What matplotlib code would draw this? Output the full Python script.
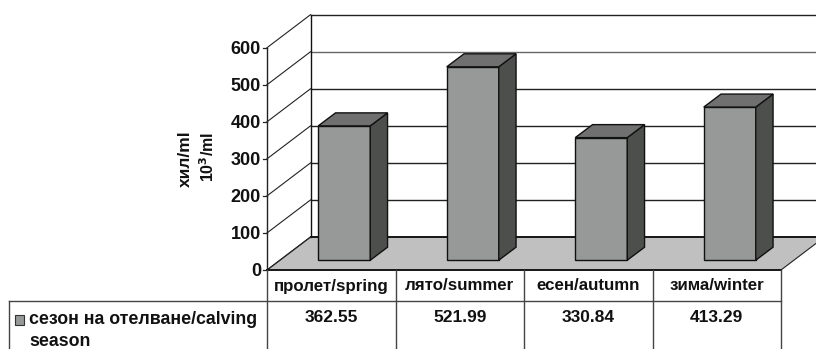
import matplotlib
matplotlib.use('Agg')
import matplotlib.pyplot as plt
from matplotlib.patches import Polygon, Rectangle

plt.rcParams['font.family'] = ['Liberation Sans', 'DejaVu Sans']
plt.rcParams['font.weight'] = 'bold'

# setup data
seasons = ['пролет/spring', 'лято/summer', 'есен/autumn', 'зима/winter']
values = [362.55, 521.99, 330.84, 413.29]
value_labels = ['362.55', '521.99', '330.84', '413.29']
y_ticks = [0, 100, 200, 300, 400, 500, 600]
series_lines = ['сезон на отелване/calving', 'season']

# pixel size of one category and of one unit on the value axis
W, H = 816, 349
X0, Y0 = 267, 270
CAT_PX = 128.5
VAL_PX = 0.3705

def px_x(p):
    return p / CAT_PX

def px_y(p):
    return p / VAL_PX

DX, DY = px_x(43.5), px_y(33)      # depth of the 3d box
BAR_W = px_x(52)
BAR_DX, BAR_DY = px_x(17.3), px_y(13)

fig = plt.figure(figsize=(W / 100, H / 100), dpi=100)

# chart axes: x in categories, y in data units
ax = fig.add_axes([0, 0, 1, 1])
ax.set_xlim(-X0 / CAT_PX, (W - X0) / CAT_PX)
ax.set_ylim(-(H - Y0) / VAL_PX, Y0 / VAL_PX)
ax.axis('off')

n = len(values)
top = max(y_ticks)

# floor
ax.add_patch(Polygon([(0, 0), (DX, DY), (n + DX, DY), (n, 0)], closed=True,
                     facecolor='#c0c0c0', edgecolor='#222222', linewidth=0.8, zorder=1))
ax.plot([0, n], [0, 0], color='#111111', lw=1.3, zorder=2)
ax.plot([DX, n + DX], [DY, DY], color='#111111', lw=1.3, zorder=2)

# walls and gridlines
for t in y_ticks:
    ax.plot([0, DX], [t, t + DY], color='#222222', lw=0.8, zorder=1.5)
    if t > 0:
        grid_col = '#666666' if t == 500 else '#222222'
        ax.plot([DX, n + DX], [t + DY, t + DY], color=grid_col, lw=1.0, zorder=1.5)
    ax.plot([-px_x(4), 0], [t, t], color='#222222', lw=0.9, zorder=1.5)
    ax.text(-px_x(6), t - px_y(1.5), str(t), ha='right', va='center', fontsize=13, color='#111111')
ax.plot([0, 0], [0, top], color='#222222', lw=1.0, zorder=1.5)
ax.plot([DX, DX], [DY, top + DY], color='#111111', lw=1.0, zorder=1.5)

# bars
for i, v in enumerate(values):
    x = i + 0.5 - BAR_W / 2 + px_x(13)
    b = px_y(9.8)
    ax.add_patch(Rectangle((x, b), BAR_W, v, facecolor='#979998',
                           edgecolor='#111111', linewidth=1.0, zorder=3))
    ax.add_patch(Polygon([(x + BAR_W, b), (x + BAR_W + BAR_DX, b + BAR_DY),
                          (x + BAR_W + BAR_DX, b + v + BAR_DY), (x + BAR_W, b + v)],
                         closed=True, facecolor='#4d4f4d', edgecolor='#111111',
                         linewidth=1.0, zorder=3))
    ax.add_patch(Polygon([(x, b + v), (x + BAR_DX, b + v + BAR_DY),
                          (x + BAR_W + BAR_DX, b + v + BAR_DY), (x + BAR_W, b + v)],
                         closed=True, facecolor='#707070', edgecolor='#111111',
                         linewidth=1.0, zorder=3))

# data table below the chart, in pixel coordinates
tb = fig.add_axes([0, 0, 1, 1])
tb.set_xlim(0, W)
tb.set_ylim(H, 0)
tb.axis('off')
tb.patch.set_alpha(0)

line = '#444444'
col_x = [X0 + i * CAT_PX for i in range(n + 1)]
tb.plot([9, col_x[-1]], [300.7, 300.7], color=line, lw=1.0)
tb.plot([9, 9], [300.7, H], color=line, lw=1.0)
for cx in col_x:
    tb.plot([cx, cx], [Y0, H], color=line, lw=1.0)

for i in range(n):
    xc = (col_x[i] + col_x[i + 1]) / 2
    tb.text(xc, 286, seasons[i], ha='center', va='center', fontsize=12.2, color='#111111')
    tb.text(xc, 318, value_labels[i], ha='center', va='center', fontsize=12.5, color='#111111')

tb.add_patch(Rectangle((14.5, 315), 9.5, 9.5, facecolor='#979998', edgecolor='#333333', lw=0.8))
tb.text(29, 320, series_lines[0], ha='left', va='center', fontsize=12.8, color='#111111')
tb.text(29, 342, series_lines[1], ha='left', va='center', fontsize=12.8, color='#111111')

# axis title on two rotated lines
tb.text(185, 159, 'хил/ml', rotation=90, ha='center', va='center', fontsize=12.5, color='#111111')
tb.text(208, 157, '10$^{\\mathbf{3}}$/ml', rotation=90, ha='center', va='center', fontsize=11.5, color='#111111')

fig.savefig('out.png', dpi=100)
